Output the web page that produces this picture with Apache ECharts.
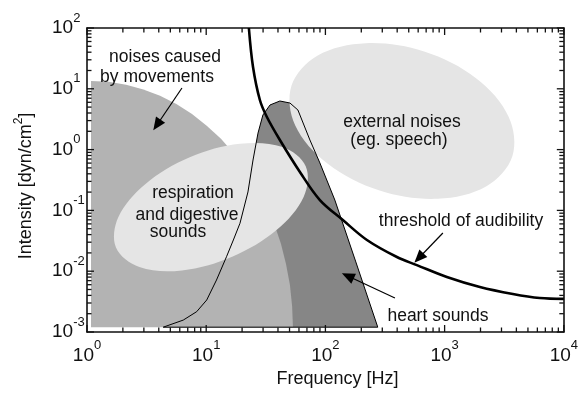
<!DOCTYPE html>
<html>
<head>
<meta charset="utf-8">
<script src="https://cdn.jsdelivr.net/npm/echarts@6/dist/echarts.min.js"></script>
<style>html,body{margin:0;padding:0;background:#fff}#c{width:581px;height:394px}</style>
</head>
<body>
<div id="c"></div>
<script>
// ---- axis ticks ----
const freqTicksMajor = [1, 10, 100, 1000, 10000];
const freqTickExp = ['0', '1', '2', '3', '4'];
const freqTicksMinor = [1,2,3,4,5,6,7,8,9,10,20,30,40,50,60,70,80,90,100,200,300,400,500,600,700,800,900,1000,2000,3000,4000,5000,6000,7000,8000,9000,10000];
const intTicksMajor = [0.001, 0.01, 0.1, 1, 10, 100];
const intTickExp = ['-3', '-2', '-1', '0', '1', '2'];
const intTicksMinor = [0.001,0.002,0.003,0.004,0.005,0.006,0.007,0.008,0.009,0.01,0.02,0.03,0.04,0.05,0.06,0.07,0.08,0.09,0.1,0.2,0.3,0.4,0.5,0.6,0.7,0.8,0.9,1,2,3,4,5,6,7,8,9,10,20,30,40,50,60,70,80,90,100];

// ---- regions (frequency Hz, intensity dyn/cm^2) ----
const moveFreq = [1.08, 1.08, 1.52, 2.13, 2.97, 4.10, 5.62, 7.60, 10.1, 13.3, 17.0, 21.4, 26.4, 31.6, 37.1, 42.3, 46.7, 50.4, 52.6, 53.4];
const moveInt  = [0.0012, 13.4, 13.0, 11.7, 9.77, 7.67, 5.60, 3.84, 2.47, 1.51, 0.869, 0.477, 0.249, 0.125, 0.0607, 0.0286, 0.0131, 0.00593, 0.00262, 0.0012];

const heartFreq = [4.36, 6.42, 8.32, 10.1, 12.2, 14.8, 16.9, 19.2, 22.4, 24.7, 27.2, 29.9, 34.3, 41.5, 50.4, 58.8, 74.1, 89.9, 120, 180, 275];
const heartInt  = [0.0012, 0.00157, 0.00216, 0.00336, 0.00716, 0.0173, 0.0326, 0.0614, 0.201, 0.674, 1.87, 3.71, 5.42, 6.30, 5.84, 4.48, 1.44, 0.603, 0.148, 0.0142, 0.0012];

const respFreq = [68.5, 65.8, 39.1, 16.5, 6.26, 2.75, 1.75, 1.83, 3.08, 7.28, 19.2, 43.7];
const respInt  = [0.527, 0.168, 0.0480, 0.0173, 0.0103, 0.0117, 0.0245, 0.0770, 0.269, 0.746, 1.245, 1.10];

const extFreq = [3700, 2244, 878, 285, 104, 55.7, 51.9, 85.5, 219, 673, 1846, 3443];
const extInt  = [0.776, 0.249, 0.155, 0.212, 0.589, 2.51, 11.2, 35.0, 56.2, 41.0, 14.8, 3.48];

const thrFreq = [22.8, 24.7, 28.2, 32.3, 41.5, 61.1, 89.9, 140, 223, 398, 585, 1044, 1976, 3735, 6295, 10000];
const thrInt  = [100, 22.8, 6.54, 3.44, 1.44, 0.429, 0.148, 0.0695, 0.0326, 0.0171, 0.0126, 0.00803, 0.00550, 0.00422, 0.00362, 0.0035];

// arrows: [start, end]
const arrowMove  = [[6.26, 10.3], [3.86, 2.54]];
const arrowThr   = [[967, 0.0425], [608, 0.0165]];
const arrowHeart = [[383, 0.00362], [154, 0.00834]];

const SANS = '"Liberation Sans", Arial, sans-serif';
const AX = '#111';
const X_MIN = 1, X_MAX = 10000, Y_MIN = 0.001, Y_MAX = 100;

function regionSeries(name, xs, ys, style, z, smooth) {
  return {
    type: 'custom', name: name, coordinateSystem: 'cartesian2d', z: z, silent: true, clip: true,
    data: xs.map((x, i) => [x, ys[i]]),
    renderItem: function (params, api) {
      if (params.dataIndex !== 0) return null;
      const pts = xs.map((x, i) => api.coord([x, ys[i]]));
      return { type: 'polygon', shape: { points: pts, smooth: smooth || 0 }, style: style };
    }
  };
}

function labelRich() {
  return {
    b: { fontSize: 19, fontFamily: SANS, color: '#111', verticalAlign: 'middle' },
    s: { fontSize: 13, fontFamily: SANS, color: '#111', verticalAlign: 'top', padding: [0, 0, 20, 0] }
  };
}
function fmt(values, exps) {
  return function (v) {
    let k = 0, best = Infinity;
    values.forEach((t, i) => { const d = Math.abs(Math.log10(t) - Math.log10(v)); if (d < best) { best = d; k = i; } });
    return '{b|10}{s|' + exps[k] + '}';
  };
}

const texts = [
  ['noises caused', 165, 57], ['by movements', 157, 77],
  ['external noises', 402, 122], ['(eg. speech)', 399, 140],
  ['respiration', 193, 193], ['and digestive', 187, 215], ['sounds', 178, 232],
  ['threshold of audibility', 461, 221], ['heart sounds', 438, 316]
].map(a => ({
  type: 'text', x: a[1], y: a[2], z: 100,
  style: { text: a[0], font: '17.5px ' + SANS, fill: '#111', textAlign: 'center', textVerticalAlign: 'middle' }
}));

const option = {
  animation: false,
  grid: { left: 87, right: 17, top: 28, bottom: 62 },
  xAxis: [
    {
      type: 'log', min: X_MIN, max: X_MAX, position: 'bottom',
      name: 'Frequency [Hz]', nameLocation: 'middle', nameGap: 33,
      nameTextStyle: { fontSize: 18, fontFamily: SANS, color: '#111', padding: [0, 0, 0, 24] },
      axisLine: { show: true, lineStyle: { color: AX, width: 1.6 } },
      axisTick: { show: false },
      axisLabel: { show: true, margin: 7, formatter: fmt(freqTicksMajor, freqTickExp), rich: labelRich() },
      splitLine: { show: false }
    },
    {
      type: 'log', min: X_MIN, max: X_MAX, position: 'top',
      axisLine: { show: true, lineStyle: { color: AX, width: 1.6 } },
      axisTick: { show: false }, axisLabel: { show: false }, splitLine: { show: false }
    }
  ],
  yAxis: [
    {
      type: 'log', min: Y_MIN, max: Y_MAX, position: 'left',
      name: '{n|Intensity [dyn/cm}{s|2}{n|]}', nameLocation: 'middle', nameGap: 52,
      nameTextStyle: { fontSize: 18, fontFamily: SANS, color: '#111', padding: [0, 12, 0, 0],
        rich: { n: { fontSize: 18, fontFamily: SANS, color: '#111', verticalAlign: 'bottom' },
                s: { fontSize: 12, fontFamily: SANS, color: '#111', verticalAlign: 'top', padding: [0, 0, 10, 0] } } },
      axisLine: { show: true, lineStyle: { color: AX, width: 1.6 } },
      axisTick: { show: false },
      axisLabel: { show: true, margin: 35, align: 'left', formatter: fmt(intTicksMajor, intTickExp), rich: labelRich() },
      splitLine: { show: false }
    },
    {
      type: 'log', min: Y_MIN, max: Y_MAX, position: 'right',
      axisLine: { show: true, lineStyle: { color: AX, width: 1.6 } },
      axisTick: { show: false }, axisLabel: { show: false }, splitLine: { show: false }
    }
  ],
  series: [
    regionSeries('heart sounds', heartFreq, heartInt, { fill: '#868686' }, 1, 0),
    regionSeries('noises caused by movements', moveFreq, moveInt, { fill: '#b3b3b3' }, 2, 0),
    regionSeries('respiration and digestive sounds', respFreq, respInt, { fill: '#e5e5e5' }, 3, 0.35),
    regionSeries('external noises', extFreq, extInt, { fill: '#e5e5e5' }, 4, 0.35),
    regionSeries('heart outline', heartFreq, heartInt, { fill: 'none', stroke: '#000', lineWidth: 1 }, 5, 0),
    {
      type: 'line', name: 'threshold of audibility', z: 6, silent: true, smooth: 0.35, symbol: 'none', clip: true,
      data: thrFreq.map((x, i) => [x, thrInt[i]]),
      lineStyle: { color: '#000', width: 2.6 },
      markLine: {
        silent: true, symbol: ['none', 'triangle'], symbolSize: [11, 13], label: { show: false },
        lineStyle: { color: '#000', width: 1.2, type: 'solid' },
        data: [
          [{ coord: arrowMove[0] }, { coord: arrowMove[1] }],
          [{ coord: arrowThr[0] }, { coord: arrowThr[1] }],
          [{ coord: arrowHeart[0] }, { coord: arrowHeart[1] }]
        ]
      }
    }
  ]
};

const chart = echarts.init(document.getElementById('c'));
chart.setOption(option);

// inward ticks on all four sides, placed through the axes' own scales
const finder = { gridIndex: 0 };
const tickEls = [];
freqTicksMinor.forEach(v => {
  const len = freqTicksMajor.indexOf(v) >= 0 ? 7 : 4.5;
  const b = chart.convertToPixel(finder, [v, Y_MIN]);
  const t = chart.convertToPixel(finder, [v, Y_MAX]);
  tickEls.push({ type: 'line', z: 50, shape: { x1: b[0], y1: b[1], x2: b[0], y2: b[1] - len }, style: { stroke: AX, lineWidth: 1.3 } });
  tickEls.push({ type: 'line', z: 50, shape: { x1: t[0], y1: t[1], x2: t[0], y2: t[1] + len }, style: { stroke: AX, lineWidth: 1.3 } });
});
intTicksMinor.forEach(v => {
  const len = intTicksMajor.indexOf(v) >= 0 ? 7 : 4.5;
  const l = chart.convertToPixel(finder, [X_MIN, v]);
  const r = chart.convertToPixel(finder, [X_MAX, v]);
  tickEls.push({ type: 'line', z: 50, shape: { x1: l[0], y1: l[1], x2: l[0] + len, y2: l[1] }, style: { stroke: AX, lineWidth: 1.3 } });
  tickEls.push({ type: 'line', z: 50, shape: { x1: r[0], y1: r[1], x2: r[0] - len, y2: r[1] }, style: { stroke: AX, lineWidth: 1.3 } });
});
chart.setOption({ graphic: tickEls.concat(texts) });
</script>
</body>
</html>
